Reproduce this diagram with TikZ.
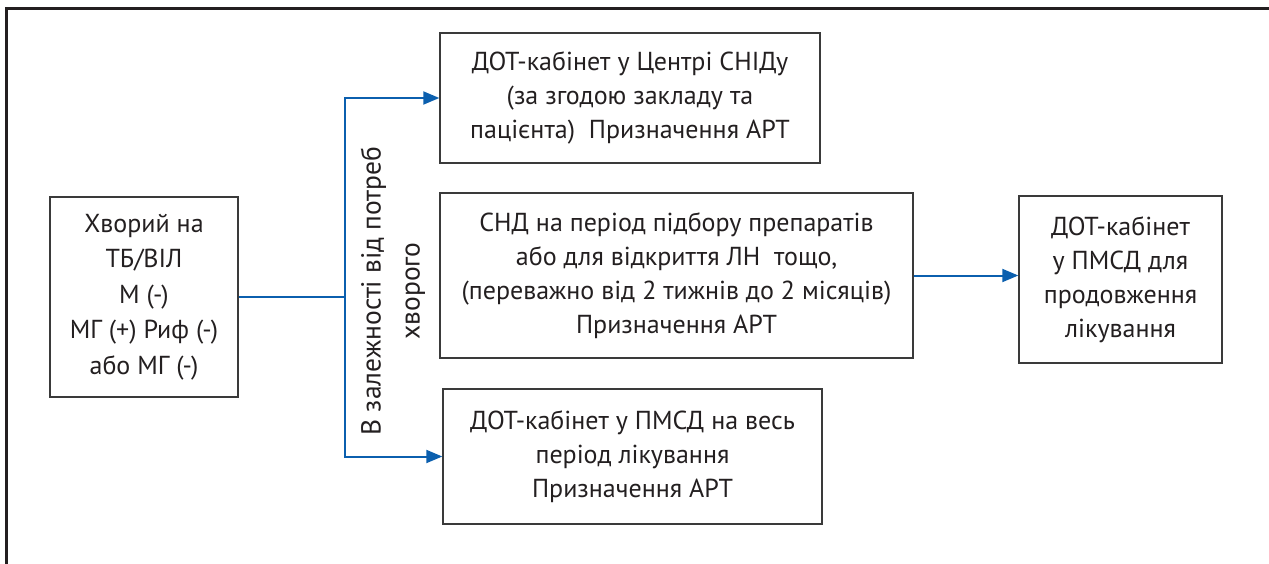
\documentclass[tikz,border=0pt]{standalone}
\usepackage{fontspec}
\setmainfont{PT Sans}
\usetikzlibrary{arrows.meta}
\definecolor{ink}{HTML}{231F20}
\definecolor{flow}{HTML}{0B5FAE}
\definecolor{boxline}{HTML}{3A3A3A}
\begin{document}
\begin{tikzpicture}[x=1pt,y=-1pt,
  box/.style={draw=boxline,line width=1.4pt,align=center,text=ink,inner sep=0pt,
    font=\fontsize{26}{34}\selectfont},
  link/.style={draw=flow,line width=2pt},
  arr/.style={link,-{Triangle[length=16pt,width=13pt]}}]
\useasboundingbox (0,0) rectangle (1269,564);
\draw[ink,line width=3pt] (6,564) -- (6,9) -- (1269,9);
\node[box,minimum width=188pt,minimum height=200pt,font=\fontsize{26}{35.5}\selectfont] (L) at (144,297)
  {Хворий на\\ТБ/ВІЛ\\М (-)\\МГ (+) Риф (-)\\або МГ (-)};
\node[box,minimum width=380pt,minimum height=130pt] (T) at (630,98)
  {ДОТ-кабінет у Центрі СНІДу\\(за згодою закладу та\\пацієнта)\ \ Призначення АРТ};
\node[box,minimum width=473pt,minimum height=165pt] (M) at (676.5,275.5)
  {СНД на період підбору препаратів\\або для відкриття ЛН\ \ тощо,\\(переважно від 2 тижнів до 2 місяців)\\Призначення АРТ};
\node[box,minimum width=379pt,minimum height=135pt] (B) at (632.5,456.5)
  {ДОТ-кабінет у ПМСД на весь\\період лікування\\Призначення АРТ};
\node[box,minimum width=203pt,minimum height=167pt] (R) at (1120.5,279.5)
  {ДОТ-кабінет\\у ПМСД для\\продовження\\лікування};
\node[rotate=90,align=center,text=ink,font=\fontsize{27.5}{39}\selectfont] (lbl) at (393,291)
  {В залежності від потреб\\хворого};
\coordinate (j) at (345,297);
\draw[link] (L.east) -- (j);
\draw[arr] (j) |- (T.west);
\draw[arr] (j) |- (B.west);
\draw[arr] (M.east) -- (M.east -| R.west);
\end{tikzpicture}
\end{document}
